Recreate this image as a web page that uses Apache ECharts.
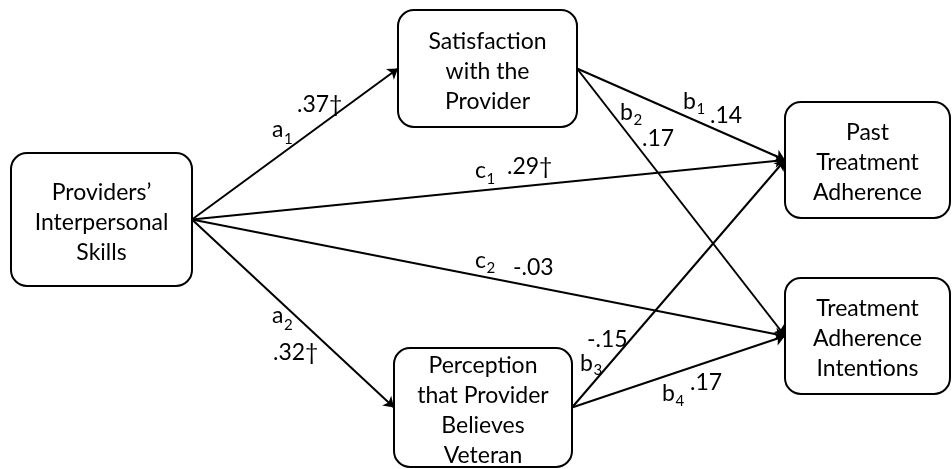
<!DOCTYPE html>
<html>
<head>
<meta charset="utf-8">
<script src="https://cdn.jsdelivr.net/npm/echarts@6/dist/echarts.min.js"></script>
<style>
html, body { margin: 0; padding: 0; background: #fff; }
#main { width: 952px; height: 469px; }
</style>
</head>
<body>
<div id="main"></div>
<script>
// 变量（方框）
var nodeNames = [
    'Providers’\nInterpersonal\nSkills',
    'Satisfaction\nwith the\nProvider',
    'Perception\nthat Provider\nBelieves\nVeteran',
    'Past\nTreatment\nAdherence',
    'Treatment\nAdherence\nIntentions'
];

// 路径: a1, a2, c1, c2, b1, b2, b3, b4
var edgeFrom = [0, 0, 0, 0, 1, 1, 2, 2];
var edgeTo = [1, 2, 3, 4, 3, 4, 3, 4];
var pathLetters = ['a', 'a', 'c', 'c', 'b', 'b', 'b', 'b'];
var pathSubs = ['1', '2', '1', '2', '1', '2', '3', '4'];
var pathCoefs = ['.37†', '.32†', '.29†', '-.03', '.14', '.17', '-.15', '.17'];

// 布局 (px): 方框 x1, y1, x2, y2
var boxes = [
    [11, 153, 192, 286],
    [398, 10, 577, 127],
    [394, 348, 572, 467],
    [785, 102, 950, 218],
    [785, 278, 950, 394]
];
// 标签位置: 字母 x,y / 下标 y / 系数 x,y
var labelPos = [
    [272, 130, 139, 297, 105],
    [272, 316, 325, 273, 353],
    [475, 171, 179, 507, 167],
    [475, 261, 268, 513, 268],
    [683, 102, 109, 710, 116],
    [620, 113, 120, 642, 139],
    [580, 364, 370, 587, 340],
    [662, 394, 401, 690, 383]
];

var FONT = 'Lato, sans-serif';
var SIZE = 23;
var myChart = echarts.init(document.getElementById('main'));

var ctx = document.createElement('canvas').getContext('2d');
function textWidth(t, size) {
    ctx.font = size + 'px ' + FONT;
    return ctx.measureText(t).width;
}

function midRight(b) { return [b[2], (b[1] + b[3]) / 2]; }
function midLeft(b) { return [b[0], (b[1] + b[3]) / 2]; }

var edgeData = edgeFrom.map(function (f, i) {
    return { coords: [midRight(boxes[f]), midLeft(boxes[edgeTo[i]])] };
});

option = {
    animation: false,
    backgroundColor: '#fff',
    grid: { left: 0, right: 0, top: 0, bottom: 0 },
    xAxis: { type: 'value', min: 0, max: 952, show: false },
    yAxis: { type: 'value', min: 0, max: 469, inverse: true, show: false },
    series: [
        {
            type: 'custom',
            coordinateSystem: 'cartesian2d',
            z: 1,
            data: boxes.map(function (b) { return [(b[0] + b[2]) / 2, (b[1] + b[3]) / 2]; }),
            renderItem: function (params, api) {
                var b = boxes[params.dataIndex];
                var p1 = api.coord([b[0], b[1]]);
                var p2 = api.coord([b[2], b[3]]);
                return {
                    type: 'group',
                    children: [{
                        type: 'rect',
                        shape: { x: p1[0], y: p1[1], width: p2[0] - p1[0], height: p2[1] - p1[1], r: 16 },
                        style: { fill: '#fff', stroke: '#000', lineWidth: 2 }
                    }, {
                        type: 'text',
                        x: (p1[0] + p2[0]) / 2,
                        y: (p1[1] + p2[1]) / 2 + 3,
                        style: {
                            text: nodeNames[params.dataIndex],
                            fontFamily: FONT, fontSize: SIZE, lineHeight: 30,
                            fill: '#000', align: 'center', verticalAlign: 'middle'
                        }
                    }]
                };
            }
        },
        {
            type: 'lines',
            coordinateSystem: 'cartesian2d',
            z: 2,
            symbol: ['none', 'arrow'],
            symbolSize: 10,
            lineStyle: { color: '#000', width: 2, opacity: 1, curveness: 0 },
            data: edgeData
        },
        {
            type: 'custom',
            coordinateSystem: 'cartesian2d',
            z: 3,
            data: labelPos.map(function (p) { return [p[0], p[1]]; }),
            renderItem: function (params, api) {
                var i = params.dataIndex;
                var p = labelPos[i];
                var l = api.coord([p[0], p[1]]);
                var s = api.coord([p[0] + textWidth(pathLetters[i], SIZE) + 0.5, p[2]]);
                var c = api.coord([p[3], p[4]]);
                var base = { fontFamily: FONT, fill: '#000', align: 'left', verticalAlign: 'middle' };
                return {
                    type: 'group',
                    children: [
                        { type: 'text', x: l[0], y: l[1], style: echarts.util.extend({ text: pathLetters[i], fontSize: SIZE }, base) },
                        { type: 'text', x: s[0], y: s[1], style: echarts.util.extend({ text: pathSubs[i], fontSize: 15 }, base) },
                        { type: 'text', x: c[0], y: c[1], style: echarts.util.extend({ text: pathCoefs[i], fontSize: SIZE }, base) }
                    ]
                };
            }
        }
    ]
};

myChart.setOption(option);
</script>
</body>
</html>
